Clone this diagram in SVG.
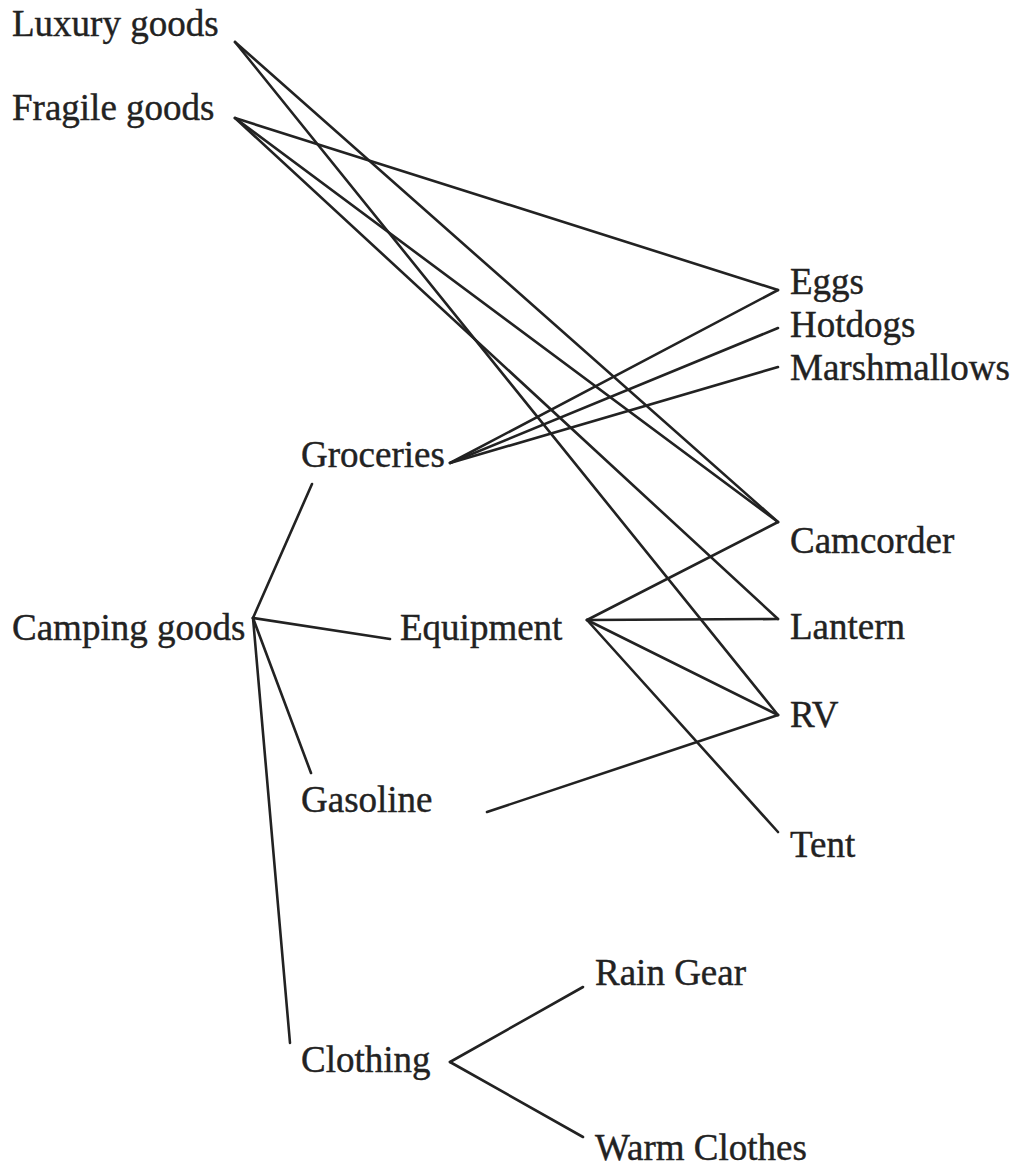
<svg xmlns="http://www.w3.org/2000/svg" width="1018" height="1169" viewBox="0 0 1018 1169">
  <style>
    .lbl { font-family: "Liberation Serif", "Times New Roman", serif; font-size: 37px; fill: #222; stroke: #222; stroke-width: 0.4; }
    .edge { stroke: #222; stroke-width: 2.6; fill: none; stroke-linecap: round; stroke-linejoin: round; }
  </style>
  <rect width="1018" height="1169" fill="#fff"/>

  <g id="connectors">
    <!-- properties to items -->
    <line class="edge" x1="235" y1="42" x2="778" y2="522"/>
    <line class="edge" x1="235" y1="42" x2="778" y2="715"/>
    <line class="edge" x1="235" y1="118" x2="778" y2="290"/>
    <line class="edge" x1="235" y1="118" x2="778" y2="522"/>
    <line class="edge" x1="235" y1="118" x2="778" y2="619"/>
    <!-- groceries -->
    <line class="edge" x1="450" y1="463" x2="778" y2="290"/>
    <line class="edge" x1="450" y1="463" x2="778" y2="328"/>
    <line class="edge" x1="450" y1="463" x2="778" y2="367"/>
    <!-- camping goods -->
    <line class="edge" x1="253" y1="618" x2="312" y2="484"/>
    <line class="edge" x1="253" y1="618" x2="390" y2="639"/>
    <line class="edge" x1="253" y1="618" x2="311" y2="773"/>
    <line class="edge" x1="253" y1="618" x2="290" y2="1043"/>
    <!-- equipment -->
    <line class="edge" x1="587" y1="620" x2="778" y2="522"/>
    <line class="edge" x1="587" y1="620" x2="778" y2="619"/>
    <line class="edge" x1="587" y1="620" x2="778" y2="715"/>
    <line class="edge" x1="587" y1="620" x2="778" y2="832"/>
    <!-- gasoline -->
    <line class="edge" x1="487" y1="812" x2="778" y2="715"/>
    <!-- clothing -->
    <line class="edge" x1="450" y1="1062" x2="583" y2="987"/>
    <line class="edge" x1="450" y1="1062" x2="583" y2="1137"/>
  </g>

  <g id="luxury-goods"><text class="lbl" x="12" y="36">Luxury goods</text></g>
  <g id="fragile-goods"><text class="lbl" x="12" y="120">Fragile goods</text></g>
  <g id="eggs"><text class="lbl" x="790" y="294">Eggs</text></g>
  <g id="hotdogs"><text class="lbl" x="790" y="337">Hotdogs</text></g>
  <g id="marshmallows"><text class="lbl" x="790" y="380">Marshmallows</text></g>
  <g id="groceries"><text class="lbl" x="301" y="467">Groceries</text></g>
  <g id="camcorder"><text class="lbl" x="790" y="553">Camcorder</text></g>
  <g id="camping-goods"><text class="lbl" x="12" y="640">Camping goods</text></g>
  <g id="equipment"><text class="lbl" x="400" y="640">Equipment</text></g>
  <g id="lantern"><text class="lbl" x="790" y="639">Lantern</text></g>
  <g id="rv"><text class="lbl" x="790" y="727">RV</text></g>
  <g id="gasoline"><text class="lbl" x="301" y="812">Gasoline</text></g>
  <g id="tent"><text class="lbl" x="790" y="857">Tent</text></g>
  <g id="rain-gear"><text class="lbl" x="595" y="985">Rain Gear</text></g>
  <g id="clothing"><text class="lbl" x="301" y="1072">Clothing</text></g>
  <g id="warm-clothes"><text class="lbl" x="595" y="1160">Warm Clothes</text></g>
</svg>
